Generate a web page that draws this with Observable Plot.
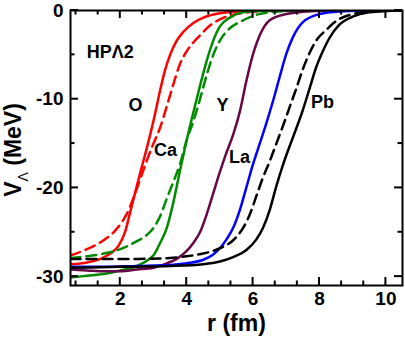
<!DOCTYPE html>
<html><head><meta charset="utf-8">
<script src="https://cdn.jsdelivr.net/npm/d3@7"></script>
<script src="https://cdn.jsdelivr.net/npm/@observablehq/plot@0.6"></script>
<style>body{margin:0;background:#fff}</style>
</head><body><div id="chart"></div>
<script>
// ---- data (r in fm, V_Lambda in MeV) ----
const rO  = [0.5,1.0,1.4,1.7,1.95,2.15,2.3,2.45,2.6,2.75,2.9,3.05,3.2,3.35,3.5,3.7,3.9,4.2,4.5,5.0,5.5,6.5,10.5];
const vO  = [-28.6,-28.4,-28.0,-27.4,-26.5,-24.9,-22.7,-20.5,-18.3,-16.2,-14.0,-11.6,-9.0,-6.7,-5.0,-3.4,-2.4,-1.4,-0.8,-0.3,-0.1,0,0];
const rOd = [0.5,1.0,1.5,1.8,2.0,2.2,2.4,2.6,2.8,3.0,3.2,3.4,3.6,3.8,4.0,4.2,4.4,4.7,5.0,5.5,6.0,7.0,10.5];
const vOd = [-27.6,-26.9,-25.9,-25.0,-24.1,-22.9,-21.1,-19.0,-16.9,-15.0,-13.2,-10.8,-8.3,-6.0,-4.6,-3.6,-2.8,-1.7,-1.0,-0.4,-0.15,0,0];
const rCa  = [0.5,1.0,1.5,2.0,2.5,2.8,3.0,3.2,3.4,3.6,3.8,4.0,4.2,4.4,4.6,4.8,5.0,5.3,5.7,6.2,7.0,10.5];
const vCa  = [-30.1,-29.9,-29.7,-29.3,-28.8,-28.2,-27.6,-26.2,-24.5,-21.6,-18.0,-14.6,-11.5,-8.5,-5.7,-3.4,-1.8,-0.8,-0.2,-0.05,0,0];
const rCad = [0.5,1.0,1.5,2.0,2.5,2.8,3.0,3.2,3.4,3.6,3.8,4.0,4.2,4.4,4.6,4.8,5.0,5.3,5.6,6.0,6.5,7.5,10.5];
const vCad = [-27.9,-27.7,-27.4,-26.9,-26.0,-25.3,-24.5,-23.2,-21.2,-19.3,-17.3,-14.6,-12.5,-10.0,-7.3,-5.0,-3.4,-2.0,-1.3,-0.6,-0.2,0,0];
const rY  = [0.5,1.0,1.5,2.0,2.5,3.0,3.4,3.7,4.0,4.2,4.4,4.6,4.8,5.0,5.2,5.4,5.6,5.8,6.0,6.2,6.5,7.0,7.5,8.5,10.5];
const vY  = [-29.2,-29.3,-29.4,-29.4,-29.2,-29.0,-28.5,-28.0,-27.1,-26.2,-25.0,-23.0,-20.6,-18.2,-16.0,-14.0,-11.4,-7.9,-4.9,-2.8,-1.1,-0.4,-0.15,0,0];
const rLa = [0.5,1.5,2.5,3.5,4.0,4.5,4.8,5.0,5.2,5.4,5.6,5.8,6.0,6.2,6.4,6.6,6.8,7.0,7.2,7.5,8.0,8.6,9.5,10.5];
const vLa = [-28.9,-28.9,-28.8,-28.7,-28.5,-28.1,-27.5,-26.8,-25.8,-24.5,-22.5,-19.9,-17.3,-15.0,-12.7,-10.2,-7.5,-4.9,-3.0,-1.3,-0.4,-0.1,0,0];
const rPbd = [0.5,1.5,2.5,3.5,4.0,4.5,5.0,5.4,5.7,5.9,6.1,6.3,6.5,6.7,6.9,7.1,7.3,7.5,7.7,7.9,8.2,8.5,9.0,9.5,10.5];
const vPbd = [-28.0,-28.0,-28.0,-27.9,-27.7,-27.4,-26.8,-25.9,-24.5,-23.0,-20.9,-18.8,-17.0,-15.0,-13.0,-10.9,-8.8,-6.6,-4.8,-3.4,-2.2,-1.2,-0.4,-0.1,0];
const rPb = [0.5,2.0,3.5,4.5,5.0,5.4,5.8,6.1,6.3,6.5,6.7,6.9,7.1,7.3,7.5,7.7,7.9,8.1,8.3,8.6,9.0,9.5,10.5];
const vPb = [-29.0,-28.9,-28.8,-28.6,-28.3,-27.8,-27.0,-25.8,-24.5,-22.5,-19.8,-17.4,-15.3,-13.3,-11.2,-8.8,-6.4,-4.6,-3.1,-1.6,-0.7,-0.2,0];

// annotation labels
const labText = ["HPΛ2","O","Ca","Y","La","Pb"];
const labR    = [1.70, 2.46, 3.36, 5.08, 5.59, 8.09];
const labV    = [-4.7, -10.7, -15.7, -10.7, -16.5, -10.3];

// ticks
const xMajor = [2,4,6,8,10];
const xMinor = [2/3,4/3,8/3,10/3,14/3,16/3,20/3,22/3,26/3,28/3];
const yMajor = [0,-10,-20,-30];
const yMinor = [-5,-15,-25];

const xDomain = [0.5,10.5];
const yDomain = [-31,0];

(function () {
// ---- layout ----
const W = 405, H = 337, mL = 70, mR = 3, mT = 10, mB = 52;
const majorLen = 8, minorLen = 4.5;

// ---- build table ----
const curves = [
  {key:"O",   r:rO,   v:vO},
  {key:"Od",  r:rOd,  v:vOd},
  {key:"Ca",  r:rCa,  v:vCa},
  {key:"Cad", r:rCad, v:vCad},
  {key:"Y",   r:rY,   v:vY},
  {key:"La",  r:rLa,  v:vLa},
  {key:"Pbd", r:rPbd, v:vPbd},
  {key:"Pb",  r:rPb,  v:vPb}
];
const rows = curves.flatMap(c => c.r.map((r,i) => ({key:c.key, r, v:c.v[i]})));
const styleOf = {
  O:  {stroke:"#ff0000"}, Od: {stroke:"#ff0000", dash:"10,6"},
  Ca: {stroke:"#008b00"}, Cad:{stroke:"#008b00", dash:"10,6"},
  Y:  {stroke:"#670748"},
  La: {stroke:"#0000ff"},
  Pbd:{stroke:"#000000", dash:"10,6"},
  Pb: {stroke:"#000000"}
};
const labels = labText.map((t,i) => ({t, r:labR[i], v:labV[i]}));

const lineMarks = curves.map(c => Plot.line(rows.filter(d => d.key === c.key), {
  x:"r", y:"v", stroke: styleOf[c.key].stroke, strokeWidth: 2.5,
  strokeDasharray: styleOf[c.key].dash, curve:"monotone-x", clip: true
}));

const fmt = d => String(d);

const chart = Plot.plot({
  width: W, height: H,
  marginLeft: mL, marginRight: mR, marginTop: mT, marginBottom: mB,
  style: {fontFamily: "'Liberation Sans', Arial, sans-serif", fontWeight: "bold", background: "white", color: "black"},
  x: {domain: xDomain},
  y: {domain: yDomain},
  marks: [
    ...lineMarks,
    Plot.text(labels, {x:"r", y:"v", text:"t", fontSize:18, fontWeight:"bold", fill:"black"}),
    Plot.frame({stroke:"black", strokeWidth:2}),
    Plot.axisX({anchor:"bottom", ticks:xMajor, tickSize:0, tickPadding:6, tickFormat:fmt, fontSize:19, fontWeight:"bold", label:null}),
    Plot.axisY({anchor:"left", ticks:yMajor, tickSize:0, tickPadding:7, tickFormat:fmt, fontSize:19, fontWeight:"bold", label:null}),
    Plot.text(["r (fm)"], {frameAnchor:"bottom", lineAnchor:"middle", dy:38, text:d=>d, fontSize:23, fontWeight:"bold", fill:"black"})
  ]
});

// inward ticks on all four sides, positioned through Plot's own scales
const sx = chart.scale("x"), sy = chart.scale("y");
const svg = d3.select(chart);
const gT = svg.append("g").attr("stroke", "black").attr("stroke-width", 2);
const xL = sx.apply(xDomain[0]), xR = sx.apply(xDomain[1]);
const yB = sy.apply(yDomain[0]), yT = sy.apply(yDomain[1]);
for (const [vals, len] of [[xMajor, majorLen], [xMinor, minorLen]]) {
  for (const v of vals) {
    const px = sx.apply(v);
    gT.append("line").attr("x1", px).attr("x2", px).attr("y1", yB).attr("y2", yB - len);
    gT.append("line").attr("x1", px).attr("x2", px).attr("y1", yT).attr("y2", yT + len);
  }
}
for (const [vals, len] of [[yMajor, majorLen], [yMinor, minorLen]]) {
  for (const v of vals) {
    const py = sy.apply(v);
    gT.append("line").attr("y1", py).attr("y2", py).attr("x1", xL).attr("x2", xL + len);
    gT.append("line").attr("y1", py).attr("y2", py).attr("x1", xR).attr("x2", xR - len);
  }
}

// y-axis title with subscript
const tt = svg.append("text")
  .attr("transform", "translate(21,150) rotate(-90)")
  .attr("text-anchor", "middle")
  .attr("font-size", 23)
  .attr("font-weight", "bold")
  .attr("fill", "black");
tt.append("tspan").text("V");
tt.append("tspan").attr("font-size", 14).attr("font-weight", "normal").attr("dy", 7).text("Λ");
tt.append("tspan").attr("dy", -7).text(" (MeV)");

document.getElementById("chart").appendChild(chart);
})();
</script>
</body></html>
